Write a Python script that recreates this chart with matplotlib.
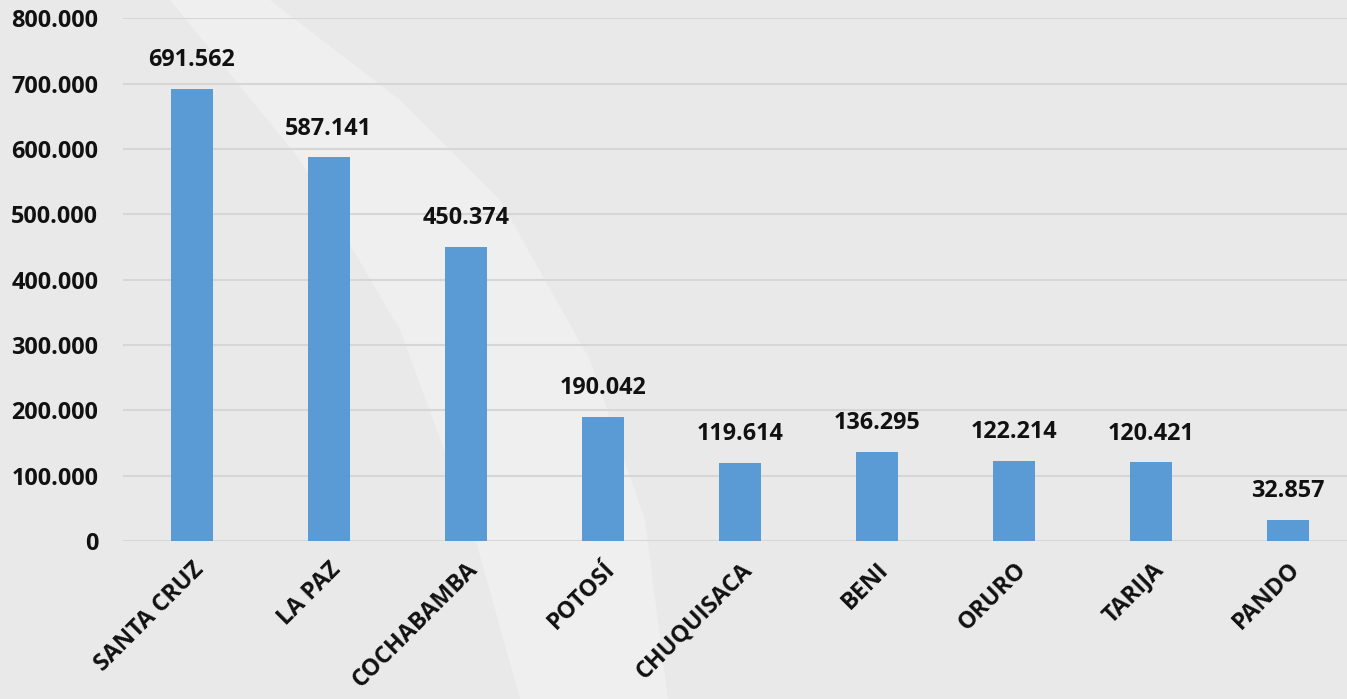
import matplotlib.pyplot as plt
from matplotlib.patches import Polygon

departamentos = ["SANTA CRUZ", "LA PAZ", "COCHABAMBA", "POTOSÍ", "CHUQUISACA",
                 "BENI", "ORURO", "TARIJA", "PANDO"]
valores = [691562, 587141, 450374, 190042, 119614, 136295, 122214, 120421, 32857]
y_ticks = [0, 100000, 200000, 300000, 400000, 500000, 600000, 700000, 800000]


def miles(v):
    # formato con punto como separador de miles
    return f"{v:,}".replace(",", ".")


plt.rcParams['font.family'] = ['Open Sans', 'DejaVu Sans']
FS = 16.8

fig = plt.figure(figsize=(13.47, 6.99), dpi=100, facecolor='#E9E9E9')

# fondo: zona curva más clara (solo decorativa)
bg = fig.add_axes([0, 0, 1, 1], zorder=-1)
bg.set_xlim(0, 1347)
bg.set_ylim(699, 0)
bg.axis('off')
bg.add_patch(Polygon([(170, 0), (270, 0), (400, 100), (500, 200), (590, 360), (645, 520),
                      (668, 699), (520, 699), (470, 520), (400, 330), (300, 160)],
                     closed=True, facecolor='#EFEFEF', edgecolor='none'))

ax = fig.add_axes([0.0915, 0.226, 0.9085, 0.748])
ax.set_facecolor('none')

x = range(len(departamentos))
bars = ax.bar(x, valores, width=0.31, color='#5B9BD5', zorder=3)

for b, v in zip(bars, valores):
    ax.annotate(miles(v), (b.get_x() + b.get_width() / 2, v),
                xytext=(0, 12), textcoords='offset points',
                ha='center', va='bottom', fontsize=FS, fontweight='bold', color='#111111')

ax.set_ylim(0, 800000)
ax.set_xlim(-0.5, 8.43)
ax.set_yticks(y_ticks)
ax.set_yticklabels([miles(t) for t in y_ticks], fontsize=FS, fontweight='bold', color='#111111')
ax.set_xticks(list(x))
ax.set_xticklabels(departamentos, rotation=45, ha='right', rotation_mode='anchor',
                   fontsize=FS, fontweight='bold', color='#111111')
ax.tick_params(axis='both', length=0)
ax.tick_params(axis='y', pad=18)
ax.tick_params(axis='x', pad=12)

ax.grid(axis='y', color='#D6D6D6', linewidth=1.5, zorder=0)
ax.set_axisbelow(True)
for s in ax.spines.values():
    s.set_visible(False)

fig.savefig('out.png', dpi=100, facecolor=fig.get_facecolor())
